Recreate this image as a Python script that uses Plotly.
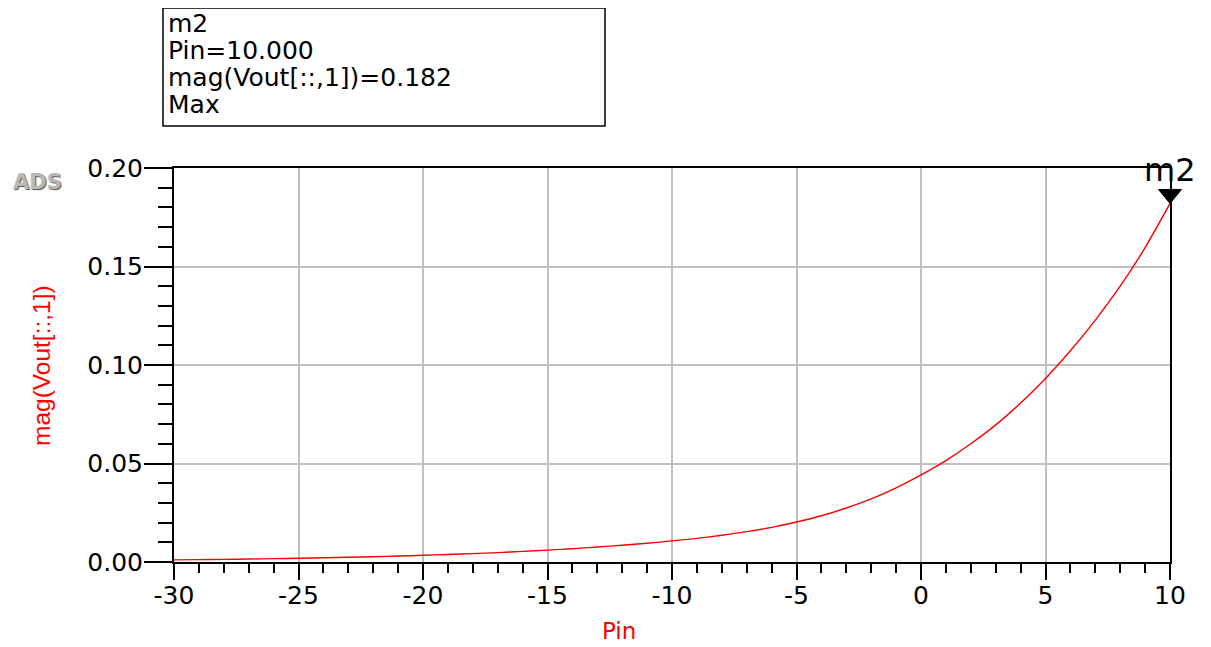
import plotly.graph_objects as go

# Data
pin = [-30, -29, -28, -27, -26, -25, -24, -23, -22, -21, -20, -19, -18, -17, -16,
       -15, -14, -13, -12, -11, -10, -9, -8, -7, -6, -5, -4, -3, -2, -1,
       0, 1, 2, 3, 4, 5, 6, 7, 8, 9, 10]
vout = [0.00107, 0.00120, 0.00135, 0.00151, 0.00170, 0.00190, 0.00213, 0.00240, 0.00269, 0.00302,
        0.00339, 0.00380, 0.00426, 0.00478, 0.00537, 0.00602, 0.00676, 0.00758, 0.00851, 0.00955,
        0.0107, 0.0120, 0.0136, 0.0154, 0.0176, 0.0203, 0.0235, 0.0274, 0.0320, 0.0376,
        0.0442, 0.0515, 0.0600, 0.0696, 0.0807, 0.0932, 0.1072, 0.1228, 0.1400, 0.1596, 0.182]

x_range = [-30, 10]
y_range = [0, 0.2]
x_ticks = [-30, -25, -20, -15, -10, -5, 0, 5, 10]
y_ticks = [0.00, 0.05, 0.10, 0.15, 0.20]

marker_name = "m2"
marker_x = pin[-1]
marker_y = vout[-1]
marker_lines = [marker_name, "Pin=%.3f" % marker_x, "mag(Vout[::,1])=%.3f" % marker_y, "Max"]

RED = "#ff0000"
TICKFONT = dict(family="DejaVu Sans", size=25, color="black")

# page body has an 8px offset; size figure so the plot lands where the reference has it
W, H = 1203, 639
L, R, T, B = 166, 41, 160, 85
PW, PH = W - L - R, H - T - B


def px_x(px):  # reference pixel -> paper fraction
    return (px - 8 - L) / PW


def px_y(py):
    return (H - B - (py - 8)) / PH


fig = go.Figure()
fig.add_trace(go.Scatter(x=pin, y=vout, mode="lines",
                         line=dict(color=RED, width=1.4, shape="spline", smoothing=0.6),
                         hoverinfo="skip", showlegend=False))

fig.update_layout(
    width=W, height=H,
    margin=dict(l=L, r=R, t=T, b=B),
    paper_bgcolor="white", plot_bgcolor="white",
    showlegend=False,
)

fig.update_xaxes(
    range=x_range, tickvals=x_ticks, ticktext=[str(v) for v in x_ticks],
    showline=True, linecolor="black", linewidth=2, mirror=True,
    ticks="outside", ticklen=16, tickwidth=2, tickcolor="black",
    showgrid=True, gridcolor="#c0c0c0", gridwidth=1.5, zeroline=False,
    tickfont=TICKFONT, ticklabelstandoff=-6,
    minor=dict(dtick=1, ticks="outside", ticklen=9, tickwidth=1.5,
               tickcolor="black", showgrid=False),
)
fig.update_yaxes(
    range=y_range, tickvals=y_ticks, ticktext=["%.2f" % v for v in y_ticks],
    showline=True, linecolor="black", linewidth=2, mirror=True,
    ticks="outside", ticklen=28, tickwidth=1.5, tickcolor="black",
    showgrid=True, gridcolor="#c0c0c0", gridwidth=1.5, zeroline=False,
    tickfont=TICKFONT, ticklabelstandoff=-4,
    minor=dict(dtick=0.01, ticks="outside", ticklen=14, tickwidth=1.5,
               tickcolor="black", showgrid=False),
)

# Axis titles
fig.add_annotation(text="Pin", xref="paper", yref="paper", x=px_x(619), y=px_y(631),
                   xanchor="center", yanchor="middle", showarrow=False,
                   font=dict(family="DejaVu Sans", size=23, color=RED))
fig.add_annotation(text="mag(Vout[::,1])", xref="paper", yref="paper",
                   x=px_x(41), y=px_y(366), xanchor="center", yanchor="middle",
                   textangle=-90, showarrow=False,
                   font=dict(family="Liberation Sans", size=24.5, color=RED))

# ADS logo
fig.add_annotation(text="<b>ADS</b>", xref="paper", yref="paper",
                   x=px_x(37), y=px_y(182), xanchor="center", yanchor="middle",
                   showarrow=False,
                   font=dict(family="DejaVu Sans", size=21, color="#b8b8b8",
                             shadow="1px 1px 1px #505050"))

# Marker triangle and label
fig.add_shape(type="path", xref="paper", yref="paper",
              xsizemode="pixel", ysizemode="pixel",
              xanchor=(marker_x - x_range[0]) / (x_range[1] - x_range[0]),
              yanchor=(marker_y - y_range[0]) / (y_range[1] - y_range[0]),
              path="M-11.5,14 L11.5,14 L0,0 Z",
              fillcolor="black", line=dict(color="black", width=1))
fig.add_annotation(text=marker_name, x=marker_x, y=marker_y, xref="x", yref="y",
                   xanchor="center", yanchor="bottom", yshift=12, showarrow=False,
                   font=dict(family="DejaVu Sans", size=32, color="black"))

# Marker readout box
fig.add_shape(type="rect", xref="paper", yref="paper",
              x0=px_x(163), x1=px_x(605), y0=px_y(126), y1=px_y(8),
              line=dict(color="black", width=1.5), fillcolor="white")
baselines_px = [33, 60, 87, 114]
for txt, b in zip(marker_lines, baselines_px):
    fig.add_annotation(text=txt, xref="paper", yref="paper",
                       x=px_x(166), y=px_y(b),
                       xanchor="left", yanchor="bottom", yshift=-7,
                       showarrow=False, align="left",
                       font=dict(family="DejaVu Sans", size=25, color="black"))

fig.write_html("out.html")
